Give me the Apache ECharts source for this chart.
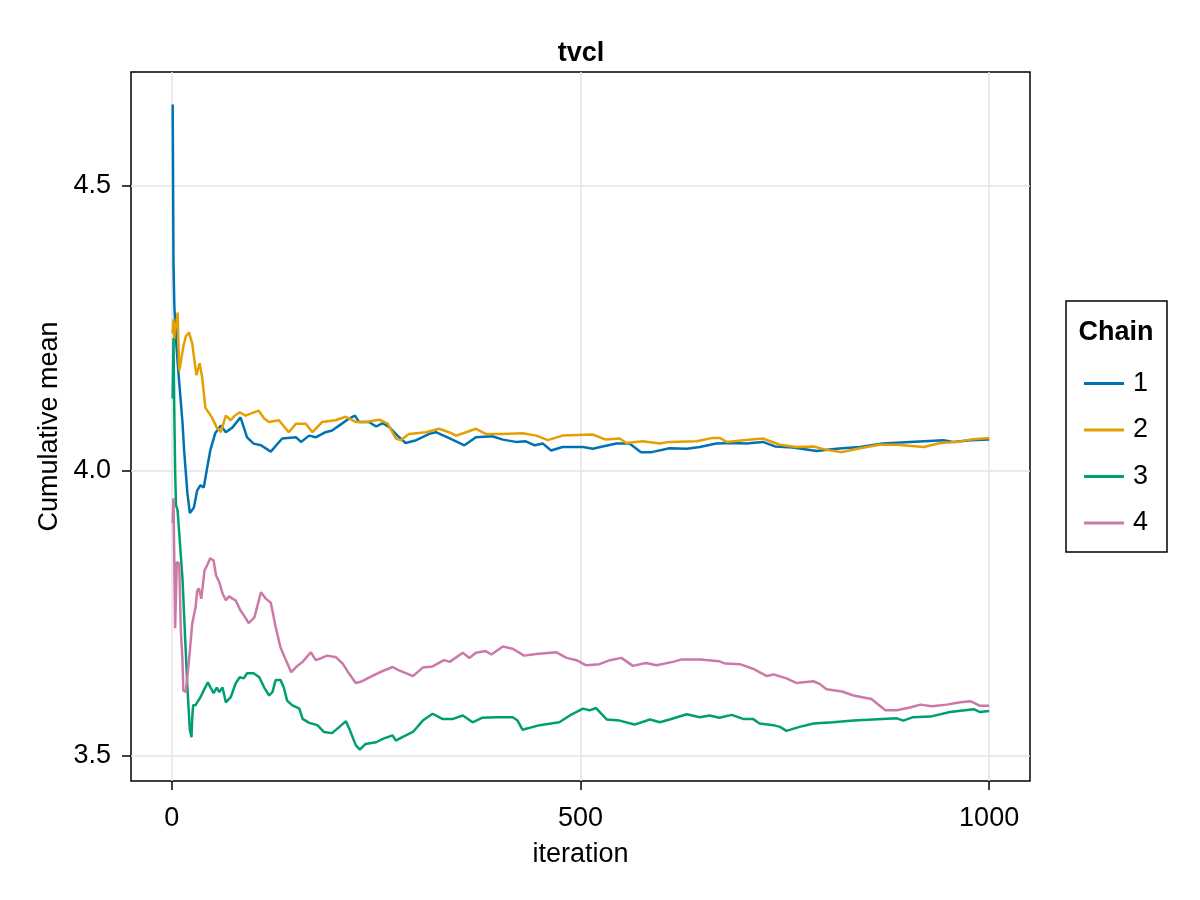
<!DOCTYPE html>
<html>
<head>
<meta charset="utf-8">
<script src="https://cdn.jsdelivr.net/npm/echarts@6/dist/echarts.min.js"></script>
<style>
html,body{margin:0;padding:0;background:#fff;}
#chart{width:1200px;height:900px;}
</style>
</head>
<body>
<div id="chart"></div>
<script>
// ---- data ----
const chainNames = ['1', '2', '3', '4'];
const colors = ['#0072B2', '#E69F00', '#009E73', '#CC79A7'];
const xTicks = [0, 500, 1000];
const yTicks = [3.5, 4.0, 4.5];

const iter1 = [1,2,3,5,8,10,13,15,19,22,27,31,35,39,43,47,53,60,66,74,84,92,100,109,121,135,152,158,168,176,188,196,205,217,224,229,241,250,258,266,276,286,299,315,323,340,358,372,392,405,421,433,444,454,464,478,503,515,527,544,560,574,587,609,630,646,666,687,703,723,738,760,789,813,842,870,903,944,956,977,1000];
const val1 = [4.642,4.365,4.29,4.23,4.172,4.137,4.084,4.035,3.96,3.925,3.935,3.965,3.974,3.97,4.003,4.035,4.065,4.079,4.067,4.075,4.093,4.058,4.047,4.044,4.033,4.056,4.058,4.05,4.061,4.058,4.067,4.07,4.079,4.091,4.096,4.085,4.085,4.077,4.083,4.076,4.061,4.048,4.053,4.064,4.067,4.056,4.044,4.058,4.06,4.054,4.05,4.051,4.044,4.047,4.035,4.041,4.041,4.038,4.042,4.047,4.047,4.032,4.032,4.039,4.038,4.041,4.047,4.048,4.047,4.05,4.042,4.04,4.034,4.038,4.041,4.047,4.05,4.053,4.05,4.053,4.054];

const iter2 = [1,2,3,4,5,7,9,11,14,17,21,25,30,34,37,41,49,55,60,66,72,77,83,90,106,113,119,131,143,152,164,172,184,200,213,225,237,254,264,274,280,290,311,327,339,348,360,372,384,405,429,446,460,478,515,531,548,556,576,597,609,642,662,670,679,699,723,744,764,785,801,820,842,866,887,920,940,960,977,1000];
const val2 = [4.24,4.265,4.23,4.26,4.25,4.277,4.175,4.19,4.217,4.235,4.242,4.222,4.167,4.188,4.164,4.11,4.093,4.075,4.067,4.096,4.088,4.096,4.102,4.096,4.105,4.091,4.085,4.088,4.067,4.082,4.082,4.067,4.085,4.088,4.094,4.085,4.085,4.089,4.082,4.056,4.053,4.064,4.067,4.073,4.067,4.061,4.067,4.073,4.064,4.064,4.065,4.061,4.053,4.061,4.063,4.054,4.056,4.048,4.051,4.047,4.05,4.051,4.057,4.057,4.05,4.053,4.056,4.045,4.041,4.042,4.036,4.032,4.039,4.045,4.045,4.041,4.048,4.05,4.054,4.057];

const iter3 = [1,2,3,4,5,7,10,13,16,19,22,24,25,26,29,31,35,39,44,51,55,58,62,66,72,78,83,88,92,100,107,113,119,123,127,133,137,141,147,156,160,168,178,186,196,205,213,217,225,230,237,250,258,270,274,282,295,307,319,331,344,356,368,380,397,417,423,429,450,474,487,503,511,519,532,548,566,585,597,609,630,646,658,670,685,699,711,719,736,744,752,768,785,809,834,858,887,895,907,928,952,981,989,1000];
const val3 = [4.126,4.232,4.10,4.00,3.94,3.93,3.87,3.81,3.714,3.619,3.545,3.532,3.567,3.588,3.588,3.593,3.602,3.614,3.628,3.609,3.619,3.611,3.619,3.593,3.602,3.626,3.637,3.635,3.644,3.644,3.637,3.619,3.605,3.611,3.632,3.632,3.619,3.596,3.588,3.582,3.564,3.557,3.553,3.541,3.539,3.55,3.56,3.547,3.518,3.51,3.52,3.523,3.529,3.535,3.526,3.532,3.541,3.561,3.573,3.564,3.564,3.57,3.558,3.566,3.567,3.567,3.561,3.545,3.553,3.558,3.57,3.582,3.579,3.583,3.563,3.561,3.554,3.563,3.558,3.563,3.572,3.567,3.57,3.566,3.571,3.564,3.564,3.556,3.553,3.55,3.543,3.55,3.556,3.558,3.561,3.563,3.565,3.561,3.567,3.568,3.576,3.581,3.576,3.578];

const iter4 = [1,2,3,4,6,9,11,13,14,17,21,25,29,31,33,36,40,43,47,51,54,58,62,66,70,74,78,84,88,94,101,109,115,121,127,133,138,146,152,160,170,176,182,190,201,209,217,225,231,246,258,270,278,295,307,319,333,340,356,364,372,384,391,405,417,431,446,470,483,495,507,523,536,550,564,580,593,613,623,646,670,677,695,711,728,736,752,764,785,793,801,820,834,856,873,887,903,916,930,948,965,977,989,1000];
const val4 = [3.907,3.951,3.95,3.723,3.839,3.837,3.719,3.667,3.614,3.611,3.667,3.732,3.76,3.789,3.793,3.775,3.825,3.833,3.846,3.842,3.816,3.804,3.784,3.772,3.779,3.775,3.772,3.754,3.746,3.732,3.742,3.786,3.775,3.768,3.725,3.689,3.672,3.646,3.655,3.664,3.681,3.667,3.67,3.675,3.672,3.661,3.643,3.627,3.629,3.64,3.648,3.655,3.649,3.639,3.654,3.656,3.667,3.664,3.68,3.671,3.68,3.683,3.677,3.691,3.687,3.675,3.678,3.681,3.671,3.667,3.658,3.66,3.667,3.671,3.657,3.662,3.658,3.664,3.668,3.668,3.665,3.661,3.66,3.652,3.639,3.642,3.635,3.627,3.63,3.625,3.616,3.612,3.605,3.599,3.579,3.579,3.584,3.589,3.586,3.589,3.593,3.595,3.587,3.587];

const iters = [iter1, iter2, iter3, iter4];
const vals = [val1, val2, val3, val4];

const FONT = '"Liberation Sans", Arial, Helvetica, sans-serif';
const FS = 27;

const chart = echarts.init(document.getElementById('chart'), null, {renderer: 'canvas'});

const series = chainNames.map((name, k) => ({
  name: name,
  type: 'line',
  data: iters[k].map((x, i) => [x, vals[k][i]]),
  showSymbol: false,
  symbol: 'none',
  lineStyle: {color: colors[k], width: 2.5},
  itemStyle: {color: colors[k]},
  animation: false,
  z: 3
}));

const option = {
  backgroundColor: '#fff',
  animation: false,
  grid: {left: 131, right: 170, top: 72, bottom: 119, show: true, borderColor: '#000', borderWidth: 1.5, backgroundColor: 'transparent', containLabel: false},
  legend: {
    orient: 'vertical', left: 1084, top: 370, padding: 0,
    data: chainNames,
    icon: 'rect', itemWidth: 40, itemHeight: 3, itemGap: 19.5,
    textStyle: {fontFamily: FONT, fontSize: FS, color: '#000', padding: [0,0,0,4]},
    selectedMode: false
  },
  graphic: [
    {type: 'rect', shape: {x: 1066, y: 301, width: 101, height: 251},
     style: {fill: 'transparent', stroke: '#000', lineWidth: 1.5}, silent: true},
    {type: 'text', x: 581, y: 54, silent: true,
     style: {text: 'tvcl', fontFamily: FONT, fontSize: FS, fontWeight: 'bold', fill: '#000', align: 'center', verticalAlign: 'middle'}},
    {type: 'text', x: 1116, y: 333, silent: true,
     style: {text: 'Chain', fontFamily: FONT, fontSize: FS, fontWeight: 'bold', fill: '#000', align: 'center', verticalAlign: 'middle'}}
  ],
  xAxis: {
    type: 'value', min: -50, max: 1050,
    name: 'iteration', nameLocation: 'middle', nameGap: 60,
    nameTextStyle: {fontFamily: FONT, fontSize: FS, color: '#000'},
    axisLine: {show: false, onZero: false},
    axisTick: {show: true, inside: false, length: 9, lineStyle: {color: '#000', width: 1.5}, customValues: xTicks},
    axisLabel: {fontFamily: FONT, fontSize: FS, color: '#000', margin: 24, customValues: xTicks, formatter: v => String(v)},
    splitLine: {show: true, lineStyle: {color: '#e3e3e3', width: 1.5}}
  },
  yAxis: {
    type: 'value', min: 3.455, max: 4.699,
    name: 'Cumulative mean', nameLocation: 'middle', nameGap: 65,
    nameTextStyle: {fontFamily: FONT, fontSize: FS, color: '#000'},
    axisLine: {show: false, onZero: false},
    axisTick: {show: true, inside: false, length: 9, lineStyle: {color: '#000', width: 1.5}, customValues: yTicks},
    axisLabel: {fontFamily: FONT, fontSize: FS, color: '#000', margin: 20, customValues: yTicks, formatter: v => v.toFixed(1), padding: [4,0,0,0]},
    splitLine: {show: true, lineStyle: {color: '#e3e3e3', width: 1.5}}
  },
  series: series
};
chart.setOption(option);
</script>
</body>
</html>
